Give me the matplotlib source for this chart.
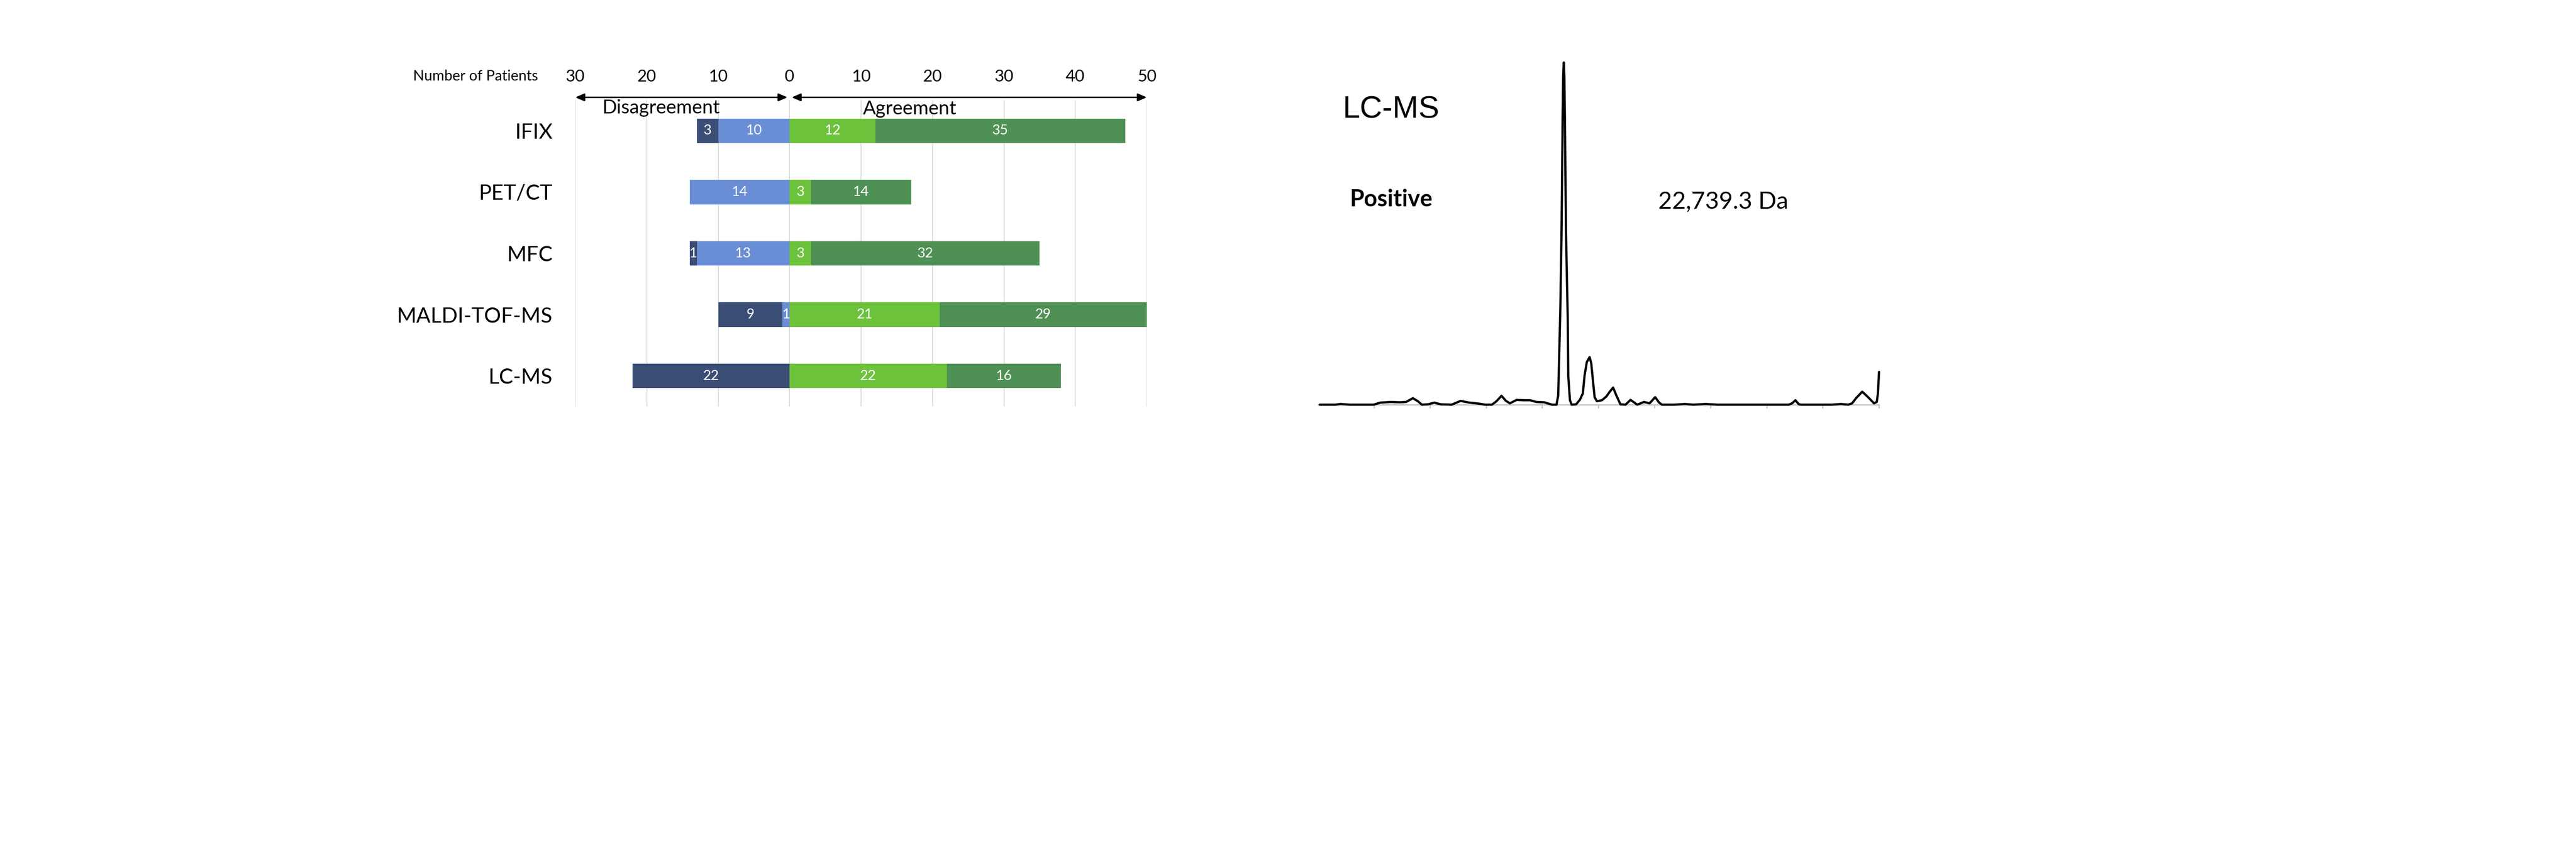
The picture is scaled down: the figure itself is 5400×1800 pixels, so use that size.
import matplotlib
matplotlib.use("Agg")
import matplotlib.pyplot as plt

# ---------------- data ----------------
categories = ["IFIX", "PET/CT", "MFC", "MALDI-TOF-MS", "LC-MS"]
disagree_dark = [3, 0, 1, 9, 22]
disagree_light = [10, 14, 13, 1, 0]
agree_light = [12, 3, 3, 21, 22]
agree_dark = [35, 14, 32, 29, 16]
x_ticks = [-30, -20, -10, 0, 10, 20, 30, 40, 50]
x_tick_labels = ["30", "20", "10", "0", "10", "20", "30", "40", "50"]

# LC-MS spectrum (x: tick units, y: % of base peak)
spec_x = [0.03, 0.31, 0.40, 0.57, 0.99, 1.11, 1.21, 1.29, 1.46, 1.57, 1.69, 1.78,
          1.85, 1.96, 2.07, 2.19, 2.38, 2.54, 2.70, 2.87, 2.98, 3.10, 3.18, 3.27,
          3.35, 3.42, 3.54, 3.67, 3.78, 3.89, 4.03, 4.17, 4.25, 4.28, 4.29, 4.32,
          4.34, 4.36, 4.37, 4.38, 4.39, 4.40, 4.42, 4.45, 4.46, 4.49, 4.52, 4.60,
          4.67, 4.72, 4.75, 4.79, 4.84, 4.87, 4.90, 4.93, 4.97, 5.06, 5.14, 5.20,
          5.26, 5.32, 5.39, 5.48, 5.57, 5.69, 5.81, 5.91, 6.01, 6.08, 6.13, 6.35,
          6.54, 6.69, 6.91, 7.12, 8.39, 8.45, 8.51, 8.57, 8.62, 9.16, 9.32, 9.45,
          9.52, 9.59, 9.70, 9.81, 9.91, 9.96, 9.98, 10.0]
spec_y = [0.0, 0.0, 0.2, 0.0, 0.0, 0.6, 0.7, 0.8, 0.7, 0.8, 1.9, 1.0,
          0.0, 0.1, 0.6, 0.1, 0.0, 1.1, 0.6, 0.3, 0.0, 0.0, 1.0, 2.6,
          1.1, 0.4, 1.4, 1.3, 1.3, 0.8, 0.7, 0.0, 0.0, 2.6, 8.4, 29.0,
          50.0, 84.0, 96.0, 100.0, 96.0, 84.0, 50.0, 26.0, 8.4, 1.3, 0.0, 0.1,
          1.5, 3.3, 8.4, 12.4, 13.9, 12.1, 7.0, 2.2, 1.0, 1.3, 2.4, 3.8,
          5.0, 2.6, 0.1, 0.0, 1.4, 0.0, 0.8, 0.4, 2.2, 0.6, 0.0, 0.0,
          0.2, 0.0, 0.2, 0.0, 0.0, 0.4, 1.3, 0.1, 0.0, 0.0, 0.2, 0.0,
          0.4, 1.9, 3.8, 2.1, 0.4, 0.8, 3.3, 9.6]
spec_ticks = [1, 2, 3, 4, 5, 6, 7, 8, 9, 10]

# ---------------- style ----------------
c_dark_blue = "#3A4D75"
c_light_blue = "#6A8ED5"
c_light_green = "#6DC23B"
c_dark_green = "#4F9054"
FONT = ["Lato", "DejaVu Sans"]
plt.rcParams["font.family"] = FONT

W, H = 5400, 1800
fig = plt.figure(figsize=(54, 18), dpi=100)

# ---------------- left: diverging bars ----------------
ax = fig.add_axes([1206 / W, 1 - 853 / H, (2404 - 1206) / W, 643 / H])
ypos = list(range(len(categories)))
bh = 0.4

neg_light = [-v for v in disagree_light]
neg_dark = [-v for v in disagree_dark]
ax.barh(ypos, neg_light, left=0, height=bh, color=c_light_blue, zorder=2)
ax.barh(ypos, neg_dark, left=neg_light, height=bh, color=c_dark_blue, zorder=2)
ax.barh(ypos, agree_light, left=0, height=bh, color=c_light_green, zorder=2)
ax.barh(ypos, agree_dark, left=agree_light, height=bh, color=c_dark_green, zorder=2)

lab_fs = 21
for i in ypos:
    segs = [(-disagree_light[i], disagree_light[i]),
            (-disagree_light[i] - disagree_dark[i], disagree_dark[i]),
            (0, agree_light[i]),
            (agree_light[i], agree_dark[i])]
    for start, val in segs:
        if val > 0:
            ax.text(start + val / 2, i, str(val), ha="center", va="center",
                    color="white", fontsize=lab_fs, zorder=3)

ax.set_xlim(-30, 50)
ax.set_ylim(4.5, -0.5)
ax.set_xticks(x_ticks)
ax.set_xticklabels(x_tick_labels, fontsize=25)
ax.xaxis.tick_top()
ax.tick_params(axis="x", length=0, pad=24)
ax.set_yticks(ypos)
ax.set_yticklabels(categories, fontsize=32)
ax.tick_params(axis="y", length=0, pad=34)
ax.grid(axis="x", color="#DADADA", lw=1.3, zorder=0)
ax.set_axisbelow(True)
for s in ax.spines.values():
    s.set_visible(False)

ay = 1.009
ax.annotate("", xy=(-30, ay), xytext=(-0.3, ay),
            xycoords=("data", "axes fraction"), textcoords=("data", "axes fraction"),
            arrowprops=dict(arrowstyle="<|-|>,head_length=0.7,head_width=0.3",
                            mutation_scale=16, lw=2.2, color="black",
                            shrinkA=0, shrinkB=0), annotation_clip=False)
ax.annotate("", xy=(0.3, ay), xytext=(50, ay),
            xycoords=("data", "axes fraction"), textcoords=("data", "axes fraction"),
            arrowprops=dict(arrowstyle="<|-|>,head_length=0.7,head_width=0.3",
                            mutation_scale=16, lw=2.2, color="black",
                            shrinkA=0, shrinkB=0), annotation_clip=False)
ax.text(-18.0, 0.975, "Disagreement", transform=ax.get_xaxis_transform(),
        ha="center", va="center", fontsize=29)
ax.text(16.8, 0.972, "Agreement", transform=ax.get_xaxis_transform(),
        ha="center", va="center", fontsize=29)

fig.text(1128 / W, 1 - 160 / H, "Number of Patients", ha="right", va="center",
         fontsize=22)

# ---------------- right: LC-MS spectrum ----------------
ax2 = fig.add_axes([2763 / W, 1 - 849 / H, (3939 - 2763) / W, 718 / H])
ax2.plot(spec_x, spec_y, color="black", lw=3.4, solid_joinstyle="round",
         solid_capstyle="round", clip_on=False, zorder=3)
ax2.set_xlim(0, 10)
ax2.set_ylim(0, 100)
for k in ["top", "right", "left"]:
    ax2.spines[k].set_visible(False)
ax2.spines["bottom"].set_color("#BDBDBD")
ax2.spines["bottom"].set_linewidth(1.8)
ax2.spines["bottom"].set_zorder(1)
ax2.set_xticks(spec_ticks)
ax2.set_xticklabels([])
ax2.set_yticks([])
ax2.tick_params(axis="x", direction="out", length=6, width=1.5, color="#BDBDBD")

fig.text(2815 / W, 1 - 248 / H, "LC-MS", ha="left", va="baseline", fontsize=47,
         family=["Liberation Sans", "DejaVu Sans"])
fig.text(2829 / W, 1 - 433 / H, "Positive", ha="left", va="baseline", fontsize=35,
         fontweight="bold")
fig.text(3476 / W, 1 - 437 / H, "22,739.3 Da", ha="left", va="baseline", fontsize=36)

fig.savefig("out.png", dpi=100, facecolor="white")
